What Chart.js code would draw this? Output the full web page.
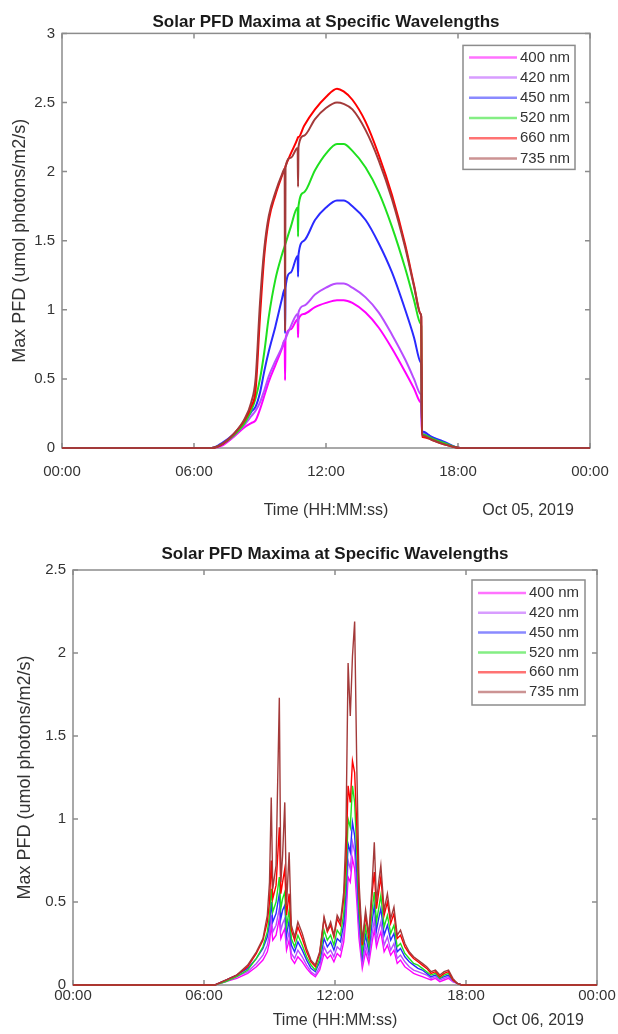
<!DOCTYPE html>
<html>
<head>
<meta charset="utf-8">
<script src="https://cdn.jsdelivr.net/npm/chart.js@4.4.1/dist/chart.umd.min.js"></script>
<style>
body { margin: 0; background: #fff; }
canvas { position: absolute; left: 0; }
#chartOct05 { top: 0; }
#chartOct06 { top: 530px; }
</style>
</head>
<body>
<canvas id="chartOct05" width="618" height="530"></canvas>
<canvas id="chartOct06" width="618" height="504"></canvas>
<script>
const wavelengths = ['400 nm', '420 nm', '450 nm', '520 nm', '660 nm', '735 nm'];
const xTickLabels = ['00:00', '06:00', '12:00', '18:00', '00:00'];

// Oct 05 - hours since midnight, max PFD per wavelength
const hoursOct05 = [0, 6.8, 7.3, 7.8, 8.3, 8.6, 8.8, 9.0, 9.2, 9.4, 9.7, 10.0, 10.12, 10.14, 10.16, 10.4, 10.71, 10.73, 10.75, 11.0,
  11.5, 12.0, 12.5, 12.8, 13.2, 13.8, 14.4, 15.0, 15.6, 16.0, 16.3, 16.33, 16.36, 16.39, 16.8, 17.3, 18.1, 24];
const pfd400Oct05 = [0, 0, 0.02, 0.08, 0.15, 0.18, 0.2, 0.28, 0.38, 0.48, 0.6, 0.72, 0.78, 0.49, 0.79, 0.86, 0.93, 0.8, 0.93, 0.97,
  1.02, 1.05, 1.07, 1.07, 1.05, 0.98, 0.87, 0.72, 0.55, 0.43, 0.33, 0.32, 0.1, 0.1, 0.07, 0.04, 0, 0];
const pfd420Oct05 = [0, 0, 0.03, 0.09, 0.17, 0.23, 0.27, 0.33, 0.42, 0.52, 0.63, 0.73, 0.78, 0.78, 0.79, 0.88, 0.97, 0.9, 0.98, 1.03,
  1.11, 1.16, 1.19, 1.19, 1.16, 1.09, 0.98, 0.82, 0.64, 0.5, 0.39, 0.38, 0.11, 0.11, 0.08, 0.04, 0, 0];
const pfd450Oct05 = [0, 0, 0.04, 0.1, 0.19, 0.26, 0.3, 0.4, 0.56, 0.7, 0.88, 1.08, 1.15, 0.83, 1.16, 1.27, 1.39, 1.24, 1.4, 1.5,
  1.65, 1.74, 1.79, 1.79, 1.75, 1.65, 1.48, 1.27, 1.0, 0.8, 0.62, 0.6, 0.12, 0.12, 0.08, 0.05, 0, 0];
const pfd520Oct05 = [0, 0, 0.03, 0.09, 0.18, 0.27, 0.36, 0.5, 0.7, 0.95, 1.22, 1.4, 1.46, 1.47, 1.48, 1.6, 1.74, 1.53, 1.75, 1.85,
  2.01, 2.13, 2.2, 2.2, 2.15, 2.03, 1.85, 1.6, 1.3, 1.07, 0.9, 0.88, 0.1, 0.1, 0.07, 0.04, 0, 0];
const pfd660Oct05 = [0, 0, 0.03, 0.1, 0.2, 0.3, 0.42, 0.95, 1.4, 1.65, 1.83, 1.97, 2.02, 2.03, 2.04, 2.13, 2.24, 2.25, 2.25, 2.33,
  2.45, 2.54, 2.6, 2.58, 2.52, 2.36, 2.12, 1.83, 1.47, 1.18, 0.97, 0.95, 0.08, 0.08, 0.06, 0.03, 0, 0];
const pfd735Oct05 = [0, 0, 0.03, 0.1, 0.21, 0.33, 0.5, 1.05, 1.45, 1.68, 1.85, 1.98, 2.02, 0.85, 2.03, 2.1, 2.17, 1.89, 2.18, 2.26,
  2.38, 2.46, 2.5, 2.49, 2.45, 2.3, 2.08, 1.8, 1.45, 1.17, 0.97, 0.95, 0.09, 0.09, 0.06, 0.03, 0, 0];

// Oct 06 - cloudy day
const hoursOct06 = [0, 6.5, 7.0, 7.5, 8.0, 8.4, 8.7, 8.9, 9.0, 9.08, 9.15, 9.3, 9.45, 9.52, 9.6, 9.7, 9.78, 9.9, 10.0, 10.15,
  10.3, 10.5, 10.7, 10.9, 11.1, 11.3, 11.5, 11.65, 11.8, 11.95, 12.1, 12.25, 12.4, 12.5, 12.6, 12.7, 12.8, 12.9, 13.0, 13.1,
  13.25, 13.4, 13.55, 13.7, 13.8, 13.9, 14.0, 14.1, 14.25, 14.4, 14.55, 14.7, 14.85, 15.0, 15.2, 15.4, 15.6, 15.8, 16.0, 16.2,
  16.4, 16.6, 16.8, 17.0, 17.2, 17.4, 17.6, 17.8, 18.2, 24];
const pfd400Oct06 = [0, 0, 0.02, 0.04, 0.07, 0.11, 0.15, 0.2, 0.26, 0.36, 0.27, 0.3, 0.4, 0.28, 0.31, 0.34, 0.21, 0.27, 0.16, 0.13,
  0.17, 0.14, 0.1, 0.07, 0.05, 0.09, 0.19, 0.16, 0.18, 0.14, 0.19, 0.17, 0.26, 0.4, 0.65, 0.62, 0.76, 0.7, 0.5, 0.28,
  0.1, 0.2, 0.13, 0.26, 0.33, 0.23, 0.28, 0.32, 0.2, 0.24, 0.18, 0.21, 0.13, 0.15, 0.11, 0.09, 0.07, 0.06, 0.05, 0.04,
  0.03, 0.04, 0.02, 0.03, 0.04, 0.02, 0.01, 0, 0, 0];
const pfd420Oct06 = [0, 0, 0.02, 0.05, 0.08, 0.13, 0.18, 0.24, 0.31, 0.42, 0.32, 0.36, 0.46, 0.33, 0.37, 0.4, 0.25, 0.32, 0.19, 0.16,
  0.21, 0.17, 0.12, 0.08, 0.06, 0.11, 0.23, 0.19, 0.21, 0.17, 0.23, 0.21, 0.31, 0.46, 0.75, 0.7, 0.86, 0.8, 0.58, 0.33,
  0.13, 0.24, 0.16, 0.31, 0.39, 0.27, 0.33, 0.38, 0.24, 0.29, 0.21, 0.25, 0.16, 0.18, 0.14, 0.11, 0.09, 0.08, 0.07, 0.06,
  0.04, 0.05, 0.03, 0.04, 0.05, 0.02, 0.01, 0, 0, 0];
const pfd450Oct06 = [0, 0, 0.03, 0.06, 0.1, 0.16, 0.22, 0.29, 0.37, 0.5, 0.38, 0.43, 0.55, 0.4, 0.45, 0.48, 0.3, 0.39, 0.24, 0.2,
  0.26, 0.21, 0.15, 0.1, 0.08, 0.14, 0.28, 0.23, 0.26, 0.21, 0.28, 0.26, 0.37, 0.55, 0.85, 0.8, 0.98, 0.9, 0.68, 0.4,
  0.17, 0.3, 0.2, 0.38, 0.48, 0.33, 0.4, 0.46, 0.3, 0.36, 0.27, 0.31, 0.2, 0.22, 0.17, 0.14, 0.12, 0.1, 0.09, 0.07,
  0.05, 0.06, 0.04, 0.05, 0.06, 0.03, 0.01, 0, 0, 0];
const pfd520Oct06 = [0, 0, 0.02, 0.05, 0.09, 0.16, 0.23, 0.32, 0.42, 0.58, 0.44, 0.5, 0.65, 0.46, 0.52, 0.56, 0.35, 0.45, 0.28, 0.23,
  0.3, 0.24, 0.17, 0.12, 0.09, 0.16, 0.33, 0.27, 0.3, 0.24, 0.33, 0.3, 0.43, 0.62, 1.0, 0.95, 1.2, 1.1, 0.8, 0.46,
  0.2, 0.35, 0.23, 0.45, 0.56, 0.38, 0.46, 0.54, 0.35, 0.42, 0.31, 0.36, 0.23, 0.25, 0.19, 0.16, 0.13, 0.12, 0.1, 0.08,
  0.06, 0.07, 0.04, 0.06, 0.07, 0.03, 0.01, 0, 0, 0];
const pfd660Oct06 = [0, 0, 0.03, 0.06, 0.11, 0.19, 0.27, 0.38, 0.5, 0.75, 0.52, 0.6, 0.95, 0.55, 0.62, 0.7, 0.42, 0.55, 0.33, 0.27,
  0.35, 0.28, 0.2, 0.14, 0.11, 0.19, 0.4, 0.32, 0.36, 0.29, 0.4, 0.36, 0.52, 0.75, 1.2, 1.1, 1.35, 1.28, 0.95, 0.55,
  0.24, 0.42, 0.28, 0.55, 0.68, 0.46, 0.56, 0.65, 0.42, 0.5, 0.37, 0.43, 0.28, 0.3, 0.23, 0.19, 0.16, 0.14, 0.12, 0.1,
  0.07, 0.08, 0.05, 0.07, 0.08, 0.03, 0.01, 0, 0, 0];
const pfd735Oct06 = [0, 0, 0.03, 0.06, 0.12, 0.2, 0.28, 0.42, 0.62, 1.13, 0.58, 0.72, 1.73, 0.62, 0.78, 1.1, 0.48, 0.8, 0.36, 0.29,
  0.38, 0.31, 0.22, 0.15, 0.12, 0.2, 0.41, 0.33, 0.38, 0.3, 0.42, 0.38, 0.56, 0.9, 1.94, 1.62, 1.98, 2.19, 1.3, 0.62,
  0.26, 0.45, 0.3, 0.6, 0.86, 0.5, 0.62, 0.72, 0.45, 0.55, 0.4, 0.47, 0.3, 0.33, 0.25, 0.2, 0.17, 0.15, 0.13, 0.11,
  0.08, 0.09, 0.06, 0.08, 0.09, 0.04, 0.01, 0, 0, 0];

const lineColors = ['#ff00ff', '#b84dff', '#2a2aff', '#1fe01f', '#ff0000', '#a33a3a'];
const fontFamily = '"Liberation Sans", Arial, Helvetica, sans-serif';

Chart.defaults.font.family = fontFamily;
Chart.defaults.color = '#333';

function makeDatasets(hours, series, width, smooth) {
  return series.map((vals, i) => ({
    label: wavelengths[i],
    data: hours.map((h, j) => ({ x: h, y: vals[j] })),
    borderColor: lineColors[i],
    borderWidth: width,
    pointRadius: 0,
    cubicInterpolationMode: smooth ? 'monotone' : 'default',
    tension: smooth ? 0.4 : 0,
    order: series.length - i,
    clip: false
  }));
}

// box, inward ticks, legend and date label like the matlab figure
const matlabAxes = {
  id: 'matlabAxes',
  beforeDatasetsDraw(chart) {
    const { ctx, chartArea: a, scales: { x, y } } = chart;
    ctx.save();
    ctx.strokeStyle = '#8c8c8c';
    ctx.lineWidth = 1.5;
    ctx.beginPath();
    x.ticks.forEach(t => {
      const px = x.getPixelForValue(t.value);
      ctx.moveTo(px, a.bottom); ctx.lineTo(px, a.bottom - 5);
      ctx.moveTo(px, a.top); ctx.lineTo(px, a.top + 5);
    });
    y.ticks.forEach(t => {
      const py = y.getPixelForValue(t.value);
      ctx.moveTo(a.left, py); ctx.lineTo(a.left + 5, py);
      ctx.moveTo(a.right, py); ctx.lineTo(a.right - 5, py);
    });
    ctx.stroke();
    ctx.strokeRect(a.left, a.top, a.right - a.left, a.bottom - a.top);
    ctx.restore();
  },
  afterDatasetsDraw(chart, args, o) {
    const { ctx, chartArea: a } = chart;
    ctx.save();
    ctx.fillStyle = '#333';
    ctx.font = '16px ' + fontFamily;
    ctx.textAlign = 'center';
    ctx.textBaseline = 'middle';
    ctx.fillText(o.date, o.dateX, o.dateY);

    const lx = a.right - o.legendRight - o.legendW;
    const ly = a.top + o.legendTop;
    ctx.fillStyle = '#fff';
    ctx.fillRect(lx, ly, o.legendW, o.legendH);
    ctx.strokeStyle = '#8c8c8c';
    ctx.lineWidth = 1.5;
    ctx.strokeRect(lx, ly, o.legendW, o.legendH);
    ctx.font = '15px ' + fontFamily;
    ctx.textAlign = 'left';
    chart.data.datasets.forEach((ds, i) => {
      const yy = ly + o.rowTop + i * o.rowGap;
      ctx.globalAlpha = 0.55;
      ctx.strokeStyle = ds.borderColor;
      ctx.lineWidth = 2.5;
      ctx.beginPath();
      ctx.moveTo(lx + 6, yy);
      ctx.lineTo(lx + 54, yy);
      ctx.stroke();
      ctx.globalAlpha = 1;
      ctx.fillStyle = '#333';
      ctx.fillText(ds.label, lx + 57, yy);
    });
    ctx.restore();
  }
};

function makeConfig(datasets, p) {
  return {
    type: 'line',
    data: { datasets: datasets },
    plugins: [matlabAxes],
    options: {
      responsive: false,
      animation: false,
      events: [],
      layout: { padding: { left: 0, right: p.padRight, top: 0, bottom: 0 } },
      scales: {
        x: {
          type: 'linear', min: 0, max: 24,
          ticks: { stepSize: 6, padding: 0, autoSkip: false, maxRotation: 0, font: { size: 15 },
            callback: (v, i) => xTickLabels[i] },
          // invisible tick marks only used as the gap between axis and labels
          grid: { display: false, drawTicks: true, tickLength: p.xTickGap },
          border: { display: false },
          title: { display: true, text: 'Time (HH:MM:ss)', font: { size: 16 }, padding: { top: 0, bottom: p.xTitlePad } },
          afterFit: s => { s.height = p.xHeight; }
        },
        y: {
          min: 0, max: p.yMax,
          ticks: { stepSize: 0.5, padding: p.yTickPad, font: { size: 15 },
            callback: v => String(Math.round(v * 10) / 10) },
          grid: { display: false, drawTicks: false },
          border: { display: false },
          title: { display: true, text: 'Max PFD (umol photons/m2/s)', font: { size: 18 }, padding: { top: p.yTitlePad, bottom: 0 } },
          afterFit: s => { s.width = p.yWidth; }
        }
      },
      plugins: {
        legend: { display: false },
        tooltip: { enabled: false },
        title: {
          display: true, fullSize: false,
          text: 'Solar PFD Maxima at Specific Wavelengths',
          color: '#1a1a1a',
          font: { size: 17, weight: 'bold' },
          padding: { top: p.titleTop, bottom: p.titleBottom }
        },
        matlabAxes: p.extra
      }
    }
  };
}

const chartOct05 = new Chart(document.getElementById('chartOct05'), makeConfig(
  makeDatasets(hoursOct05, [pfd400Oct05, pfd420Oct05, pfd450Oct05, pfd520Oct05, pfd660Oct05, pfd735Oct05], 2, true),
  { padRight: 28, xTickGap: 15, xTitlePad: 9.4, xHeight: 82, yMax: 3, yTickPad: 7, yTitlePad: 9, yWidth: 62,
    titleTop: 12, titleBottom: 1,
    extra: { date: 'Oct 05, 2019', dateX: 528, dateY: 511, legendRight: 15, legendTop: 12, legendW: 112, legendH: 124, rowTop: 12, rowGap: 20.2 } }
));

const chartOct06 = new Chart(document.getElementById('chartOct06'), makeConfig(
  makeDatasets(hoursOct06, [pfd400Oct06, pfd420Oct06, pfd450Oct06, pfd520Oct06, pfd660Oct06, pfd735Oct06], 1.4, false),
  { padRight: 21, xTickGap: 2, xTitlePad: 3.4, xHeight: 49, yMax: 2.5, yTickPad: 7, yTitlePad: 14, yWidth: 73,
    titleTop: 14, titleBottom: 5.6,
    extra: { date: 'Oct 06, 2019', dateX: 538, dateY: 491, legendRight: 12, legendTop: 10, legendW: 113, legendH: 125, rowTop: 13, rowGap: 19.8 } }
));
</script>
</body>
</html>
